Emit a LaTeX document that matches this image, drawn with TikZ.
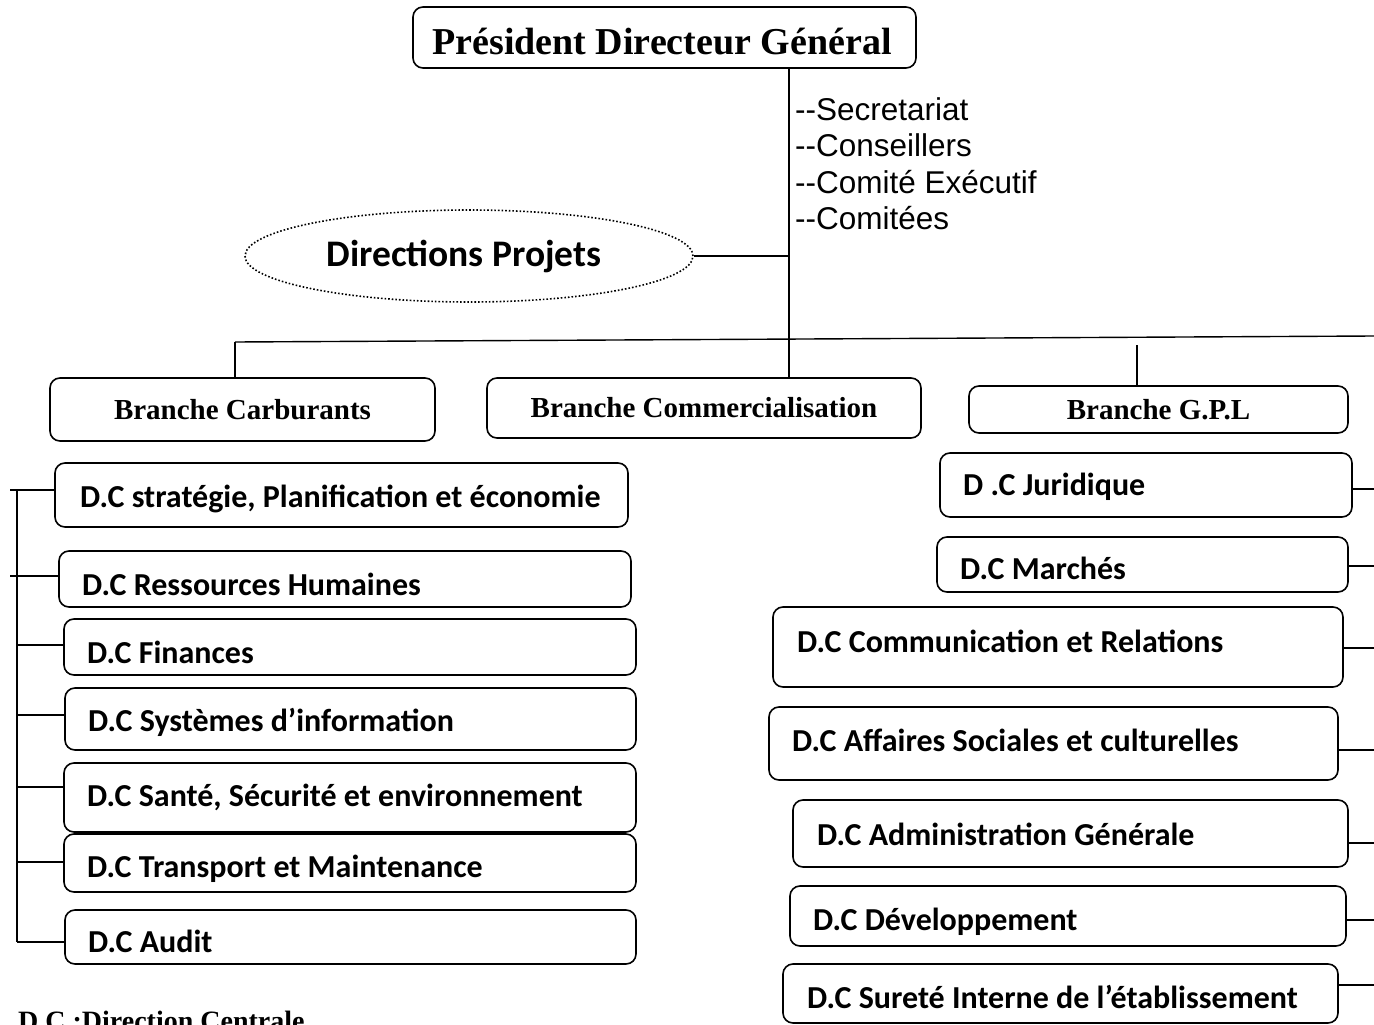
\documentclass[tikz,border=0pt]{standalone}
\usepackage{fontspec}
\setmainfont{Liberation Serif}
\newfontfamily\calfont{Carlito}
\newfontfamily\arialfont{Liberation Sans}
\usetikzlibrary{shapes.geometric}
\begin{document}
\begin{tikzpicture}[x=1pt,y=-1pt,
  box/.style={draw, line width=1.6pt, rounded corners=10pt, inner sep=0pt},
  headtext/.style={inner sep=0pt, font=\fontsize{38}{40}\selectfont\bfseries},
  branch/.style={box, font=\fontsize{29}{32}\selectfont\bfseries},
  dclabel/.style={anchor=base west, inner sep=0pt, font=\calfont\fontsize{32}{34}\selectfont\bfseries},
  link/.style={line width=1.4pt}]
\useasboundingbox (0,0) rectangle (1374,1025);

% top of the hierarchy
\node[box, minimum width=503pt, minimum height=61pt] (pdg) at (664.5,37.5) {};
\node[headtext, anchor=base] (pdgtext) at (662,55) {Président Directeur Général};
\node[anchor=north west, inner sep=0pt, align=left, font=\arialfont\fontsize{31.5}{36.5}\selectfont] (staff) at (795,97)
  {--Secretariat\\--Conseillers\\--Comité Exécutif\\--Comitées};
\node[ellipse, draw, dotted, line width=1.6pt, minimum width=448pt, minimum height=92pt, inner sep=0pt,
  font=\calfont\fontsize{37.5}{40}\selectfont\bfseries] (proj) at (469,256) {\hspace*{-10pt}Directions Projets};

% branches
\node[branch, minimum width=385pt, minimum height=63pt] (carb) at (242.5,409.5) {Branche Carburants};
\node[branch, minimum width=434pt, minimum height=60pt] (comm) at (704,408) {Branche Commercialisation};
\node[branch, minimum width=379pt, minimum height=47pt] (gpl) at (1158.5,409.5) {Branche G.P.L};

% central directions, left column
\node[box, minimum width=573pt, minimum height=64pt] (l1) at (341.5,495) {};
\node[box, minimum width=572pt, minimum height=56pt] (l2) at (345,579) {};
\node[box, minimum width=572pt, minimum height=56pt] (l3) at (350,647) {};
\node[box, minimum width=571pt, minimum height=62pt] (l4) at (350.5,719) {};
\node[box, minimum width=572pt, minimum height=69pt] (l5) at (350,797.5) {};
\node[box, minimum width=572pt, minimum height=58pt] (l6) at (350,863) {};
\node[box, minimum width=571pt, minimum height=54pt] (l7) at (350.5,937) {};
\node[dclabel] (t1) at (80,507) {D.C stratégie, Planification et économie};
\node[dclabel] (t2) at (82,595) {D.C Ressources Humaines};
\node[dclabel] (t3) at (87,663) {D.C Finances};
\node[dclabel] (t4) at (88,731) {D.C Systèmes d’information};
\node[dclabel] (t5) at (87,806) {D.C Santé, Sécurité et environnement};
\node[dclabel] (t6) at (87,877) {D.C Transport et Maintenance};
\node[dclabel] (t7) at (88,952) {D.C Audit};

% central directions, right column
\node[box, minimum width=412pt, minimum height=64pt] (r1) at (1146,485) {};
\node[box, minimum width=411pt, minimum height=55pt] (r2) at (1142.5,564.5) {};
\node[box, minimum width=570pt, minimum height=80pt] (r3) at (1058,647) {};
\node[box, minimum width=569pt, minimum height=73pt] (r4) at (1053.5,743.5) {};
\node[box, minimum width=555pt, minimum height=67pt] (r5) at (1070.5,833.5) {};
\node[box, minimum width=556pt, minimum height=60pt] (r6) at (1068,916) {};
\node[box, minimum width=555pt, minimum height=59pt] (r7) at (1060.5,993.5) {};
\node[dclabel] (s1) at (963,495) {D .C Juridique};
\node[dclabel] (s2) at (960,579) {D.C Marchés};
\node[dclabel] (s3) at (797,652) {D.C Communication et Relations};
\node[dclabel] (s4) at (792,751) {D.C Affaires Sociales et culturelles};
\node[dclabel] (s5) at (817,845) {D.C Administration Générale};
\node[dclabel] (s6) at (813,930) {D.C Développement};
\node[dclabel] (s7) at (807,1008) {D.C Sureté Interne de l’établissement};

% legend along the lower edge
\node[anchor=base west, inner sep=0pt, font=\fontsize{28}{30}\selectfont\bfseries] (legend) at (18,1030) {D.C :Direction Centrale};

% connectors
\coordinate (trunk) at (789,0);
\coordinate (busL) at (235,342);
\coordinate (busR) at (1374,336);
\coordinate (gtop) at (1137,345);
\coordinate (spine) at (17,0);
\coordinate (lout) at (10,0);
\coordinate (redge) at (1374,0);

\draw[link] (pdg.south -| trunk) -- (comm.north -| trunk);
\draw[link] (proj.east) -- (proj.east -| trunk);
\draw[link] (busL) -- (busR);
\draw[link] (busL) -- (busL |- carb.north);
\draw[link] (gtop) -- (gtop |- gpl.north);

\draw[link] ([yshift=5pt]l1.west -| spine) -- ([yshift=-5pt]l7.west -| spine);
\draw[link] ([yshift=5pt]l1.west -| lout) -- ([yshift=5pt]l1.west);
\draw[link] ([yshift=3pt]l2.west -| lout) -- ([yshift=3pt]l2.west);
\draw[link] ([yshift=2pt]l3.west -| spine) -- ([yshift=2pt]l3.west);
\draw[link] ([yshift=4pt]l4.west -| spine) -- ([yshift=4pt]l4.west);
\draw[link] ([yshift=10.5pt]l5.west -| spine) -- ([yshift=10.5pt]l5.west);
\draw[link] ([yshift=1pt]l6.west -| spine) -- ([yshift=1pt]l6.west);
\draw[link] ([yshift=-5pt]l7.west -| spine) -- ([yshift=-5pt]l7.west);

\draw[link] ([yshift=-4pt]r1.east) -- ([yshift=-4pt]r1.east -| redge);
\draw[link] ([yshift=-1.5pt]r2.east) -- ([yshift=-1.5pt]r2.east -| redge);
\draw[link] ([yshift=-1pt]r3.east) -- ([yshift=-1pt]r3.east -| redge);
\draw[link] ([yshift=-6.5pt]r4.east) -- ([yshift=-6.5pt]r4.east -| redge);
\draw[link] ([yshift=-9.5pt]r5.east) -- ([yshift=-9.5pt]r5.east -| redge);
\draw[link] ([yshift=-4pt]r6.east) -- ([yshift=-4pt]r6.east -| redge);
\draw[link] ([yshift=8.5pt]r7.east) -- ([yshift=8.5pt]r7.east -| redge);
\end{tikzpicture}
\end{document}
